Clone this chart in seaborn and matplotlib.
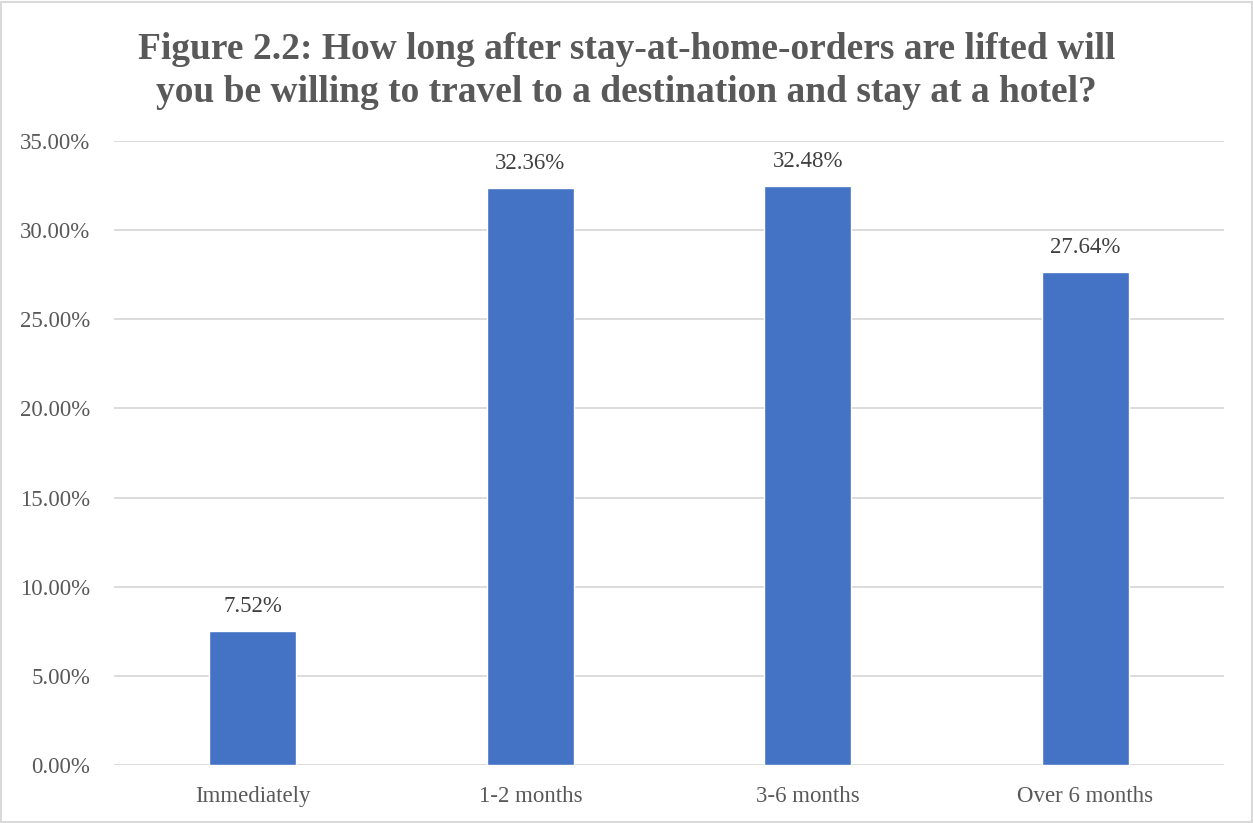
import matplotlib
matplotlib.use("Agg")
import matplotlib.pyplot as plt
import seaborn as sns
import pandas as pd
from matplotlib.ticker import FuncFormatter
from matplotlib.patches import Rectangle

categories = ["Immediately", "1-2 months", "3-6 months", "Over 6 months"]
shares = [7.52, 32.36, 32.48, 27.64]
y_ticks = [0, 5, 10, 15, 20, 25, 30, 35]

df = pd.DataFrame({"when": categories, "share": shares})

sns.set_theme(style="white")
plt.rcParams["font.family"] = ["Liberation Serif", "DejaVu Serif"]

fig = plt.figure(figsize=(12.53, 8.23), dpi=100)
ax = fig.add_axes([0.091, 0.0705, 0.886, 0.7582])

sns.barplot(data=df, x="when", y="share", color="#4472C4", width=0.313,
            saturation=1, ax=ax, zorder=3)

ax.set_ylim(0, 35)
ax.set_xlim(-0.5, len(categories) - 0.5)
ax.set_yticks(y_ticks)
ax.yaxis.set_major_formatter(FuncFormatter(lambda v, p: f"{v:.2f}%"))
ax.grid(axis="y", color="#D9D9D9", linewidth=1.3, zorder=0)
ax.set_axisbelow(True)
for s in ax.spines.values():
    s.set_visible(False)
ax.set_xlabel("")
ax.set_ylabel("")
ax.tick_params(axis="both", length=0, labelsize=16.5, colors="#595959")
ax.tick_params(axis="y", pad=17)
ax.tick_params(axis="x", pad=15)

for bar, val in zip(ax.patches, shares):
    ax.annotate(f"{val:.2f}%", (bar.get_x() + bar.get_width() / 2, val),
                xytext=(0, 10), textcoords="offset points",
                ha="center", va="bottom", fontsize=16.5, color="#404040")

fig.text(0.5, 0.914,
         "Figure 2.2: How long after stay-at-home-orders are lifted will\n"
         "you be willing to travel to a destination and stay at a hotel?",
         ha="center", va="center", fontsize=27, fontweight="bold",
         color="#595959", linespacing=1.3)

fig.patches.append(Rectangle((0.001, 0.001), 0.998, 0.997, transform=fig.transFigure,
                             fill=False, edgecolor="#D9D9D9", linewidth=1.5))

fig.savefig("out.png", dpi=100)
